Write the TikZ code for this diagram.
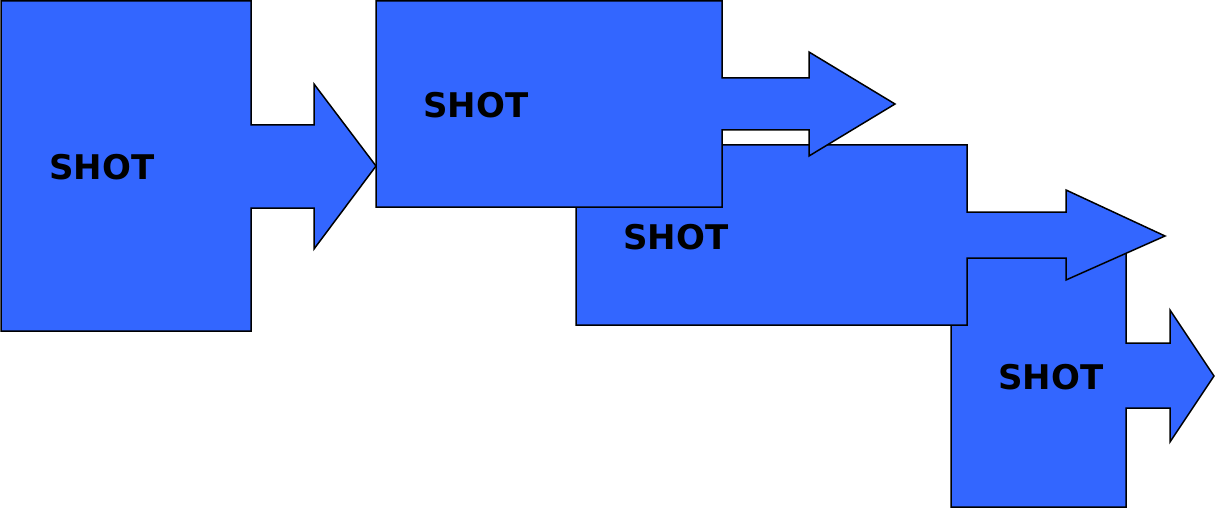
\documentclass[tikz,border=0pt]{standalone}
\usepackage{fontspec}
\newfontfamily\shotfont{DejaVu Sans}
\begin{document}
\begin{tikzpicture}[x=1pt,y=-1pt,
  arrowbox/.style={fill=shotblue,draw=black,line width=1.5pt,line join=miter},
  shotlabel/.style={anchor=west,inner sep=0pt,font=\shotfont\bfseries\fontsize{34}{34}\selectfont}]
\definecolor{shotblue}{HTML}{3366FF}
\useasboundingbox (0,0) rectangle (1216,508);
% shape 1
\draw[arrowbox] (1,1) -- (251,1) -- (251,125) -- (314,125) -- (314,84) -- (376,166) -- (314,249) -- (314,208) -- (251,208) -- (251,331) -- (1,331) -- cycle;
\node[shotlabel] (s1) at (49,167) {SHOT};
% shape 4
\draw[arrowbox] (951,240) -- (1126,240) -- (1126,343) -- (1170,343) -- (1170,310) -- (1214,376) -- (1170,442) -- (1170,408) -- (1126,408) -- (1126,507) -- (951,507) -- cycle;
\node[shotlabel] (s4) at (998,377) {SHOT};
% shape 3
\draw[arrowbox] (576,145) -- (967,145) -- (967,212) -- (1066,212) -- (1066,190) -- (1165,236) -- (1066,280) -- (1066,258) -- (967,258) -- (967,325) -- (576,325) -- cycle;
\node[shotlabel] (s3) at (623,237) {SHOT};
% shape 2
\draw[arrowbox] (376,1) -- (722,1) -- (722,78) -- (809,78) -- (809,52) -- (895,104) -- (809,156) -- (809,130) -- (722,130) -- (722,207) -- (376,207) -- cycle;
\node[shotlabel] (s2) at (423,105) {SHOT};
\end{tikzpicture}
\end{document}
